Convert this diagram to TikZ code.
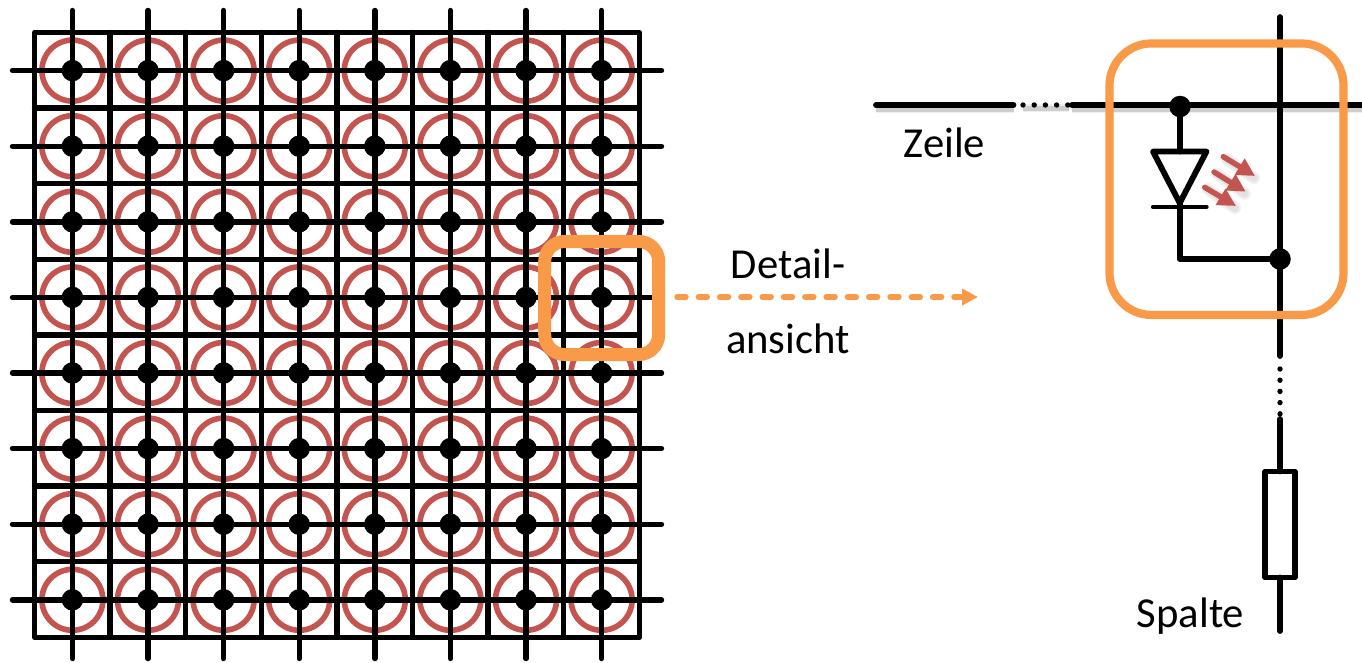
\documentclass[tikz,border=0pt]{standalone}
\usepackage{fontspec}
\setmainfont{Carlito}
\usetikzlibrary{arrows.meta}
\definecolor{ledred}{HTML}{C4544F}
\definecolor{accent}{HTML}{F89A48}
\tikzset{
  grid line/.style={draw=black,line width=5.4pt,line cap=round},
  grid frame/.style={draw=black,line width=5.4pt,line join=round},
  led ring/.style={circle,draw=ledred,line width=5.6pt,minimum size=61pt,inner sep=0pt,outer sep=0pt},
  dot/.style={circle,fill=black,minimum size=21.5pt,inner sep=0pt,outer sep=0pt},
  dotline/.style={draw=black,line width=5.4pt,line cap=round,dash pattern=on 0pt off 11.2pt},
  soft/.style={
    preaction={draw=black,draw opacity=.06,line width=#1+5pt,transform canvas={yshift=-3pt}},
    preaction={draw=black,draw opacity=.14,line width=#1+2pt,transform canvas={yshift=-3pt}}},
  wire/.style={draw=black,line width=5.8pt,line cap=round,line join=round},
  softwire/.style={wire,soft=5.8pt},
  label text/.style={inner sep=0pt,outer sep=0pt,anchor=base,font=\fontsize{42.7}{42.7}\selectfont},
  ray/.style={draw=ledred,line width=5.4pt,line cap=round,-{Triangle[length=18pt,width=18pt]}},
  rayshade/.style={draw=black,draw opacity=.06,line width=#1,line cap=round},
}
\begin{document}
\begin{tikzpicture}[x=1pt,y=-1pt]
\useasboundingbox (0,0) rectangle (1362,662);
% --- LED matrix ---
\foreach \i in {0,...,7}{
  \foreach \j in {0,...,7}{
    \node[led ring] (ring-\i-\j) at ({72.4+75.6*\i},{70.6+75.6*\j}) {};
  }
}
\coordinate (frameA) at (34.6,32.5);
\coordinate (frameB) at (639.2,637.3);
\draw[grid frame] (frameA) rectangle (frameB);
\foreach \k in {1,...,7}{
  \coordinate (gt-\k) at ({34.6+75.575*\k},32.5);
  \coordinate (gb-\k) at ({34.6+75.575*\k},637.3);
  \coordinate (gl-\k) at (34.6,{32.5+75.6*\k});
  \coordinate (gr-\k) at (639.2,{32.5+75.6*\k});
  \draw[grid line] (gt-\k) -- (gb-\k);
  \draw[grid line] (gl-\k) -- (gr-\k);
}
\foreach \i in {0,...,7}{
  \coordinate (vt-\i) at ({72.4+75.6*\i},10.5);
  \coordinate (vb-\i) at ({72.4+75.6*\i},658.5);
  \coordinate (hl-\i) at (12.5,{70.6+75.6*\i});
  \coordinate (hr-\i) at (661.5,{70.6+75.6*\i});
  \draw[grid line] (vt-\i) -- (vb-\i);
  \draw[grid line] (hl-\i) -- (hr-\i);
}
\foreach \i in {0,...,7}{
  \foreach \j in {0,...,7}{
    \node[dot] (dot-\i-\j) at (ring-\i-\j) {};
  }
}
% --- highlight and arrow ---
\node[draw=accent,line width=13pt,rounded corners=20pt,minimum width=114pt,minimum height=113pt,inner sep=0pt,outer sep=0pt] (detail) at (601.7,298) {};
\coordinate (arrowStart) at (677,297);
\coordinate (arrowEnd) at (978,297);
\draw[draw=accent,line width=5.4pt,line cap=round,dash pattern=on 9pt off 12.3pt,-{Triangle[length=16pt,width=16pt]}] (arrowStart) -- (arrowEnd);
\node[label text] (detailA) at (788,278) {Detail-};
\node[label text] (detailB) at (788,353) {ansicht};
% --- detail view: row and column ---
\coordinate (rowA) at (876,105);
\coordinate (rowB) at (1013.5,105);
\coordinate (rowC) at (1072,105);
\coordinate (rowD) at (1362,105);
\draw[softwire] (rowA) -- (rowB);
\draw[dotline,soft=3pt] (1023,105) -- (1069,105);
\draw[softwire] (rowC) -- (rowD);
\coordinate (colA) at (1280,17);
\coordinate (colB) at (1280,356);
\coordinate (colC) at (1280,419);
\coordinate (colD) at (1280,631);
\draw[wire] (colA) -- (colB);
\draw[dotline] (colB |- 0,369) -- (colB |- 0,415);
\node[draw=black,fill=white,line width=5.6pt,line join=round,minimum width=30pt,minimum height=106pt,inner sep=0pt,outer sep=0pt] (res) at (1280,524.5) {};
\draw[wire] (colC) -- (res.north);
\draw[wire] (res.south) -- (colD);
\node[label text] (zeile) at (944.5,157) {Zeile};
\node[label text] (spalte) at (1190.5,627) {Spalte};
% --- LED symbol ---
\node[dot] (dotRow) at (1180,106.5) {};
\node[dot] (dotCol) at (1280,259) {};
\coordinate (triL) at (1153,151.5);
\coordinate (triR) at (1206.5,151.5);
\coordinate (triB) at (1179.7,203);
\coordinate (barL) at (1153,207);
\coordinate (barR) at (1206.5,207);
\coordinate (bend) at (1179.7,259);
\draw[wire] (dotRow) -- (dotRow |- triL);
\draw[wire] (triL) -- (triR) -- (triB) -- cycle;
\draw[draw=black,line width=4.4pt,line cap=round] (barL) -- (barR);
\draw[wire] (triB) -- (bend) -- (dotCol);
% rays
\coordinate (rayAs) at (1223.3,156.7); \coordinate (rayAe) at (1255,176);
\coordinate (rayBs) at (1214,172);     \coordinate (rayBe) at (1245.7,191.7);
\coordinate (rayCs) at (1204.7,187.3); \coordinate (rayCe) at (1236,206);
\foreach \a in {A,B,C}{
  \draw[rayshade=12pt] ([shift={(3pt,-2pt)}]ray\a s) -- ([shift={(-1pt,-2pt)}]ray\a e);
  \draw[rayshade=8pt] ([shift={(3pt,-2pt)}]ray\a s) -- ([shift={(-1pt,-2pt)}]ray\a e);
}
\foreach \a in {A,B,C}{
  \draw[ray] (ray\a s) -- (ray\a e);
}
\node[draw=accent,line width=8.2pt,rounded corners=42pt,minimum width=234pt,minimum height=271.5pt,inner sep=0pt,outer sep=0pt] (zoomBox) at (1226.5,179.2) {};
\end{tikzpicture}
\end{document}
